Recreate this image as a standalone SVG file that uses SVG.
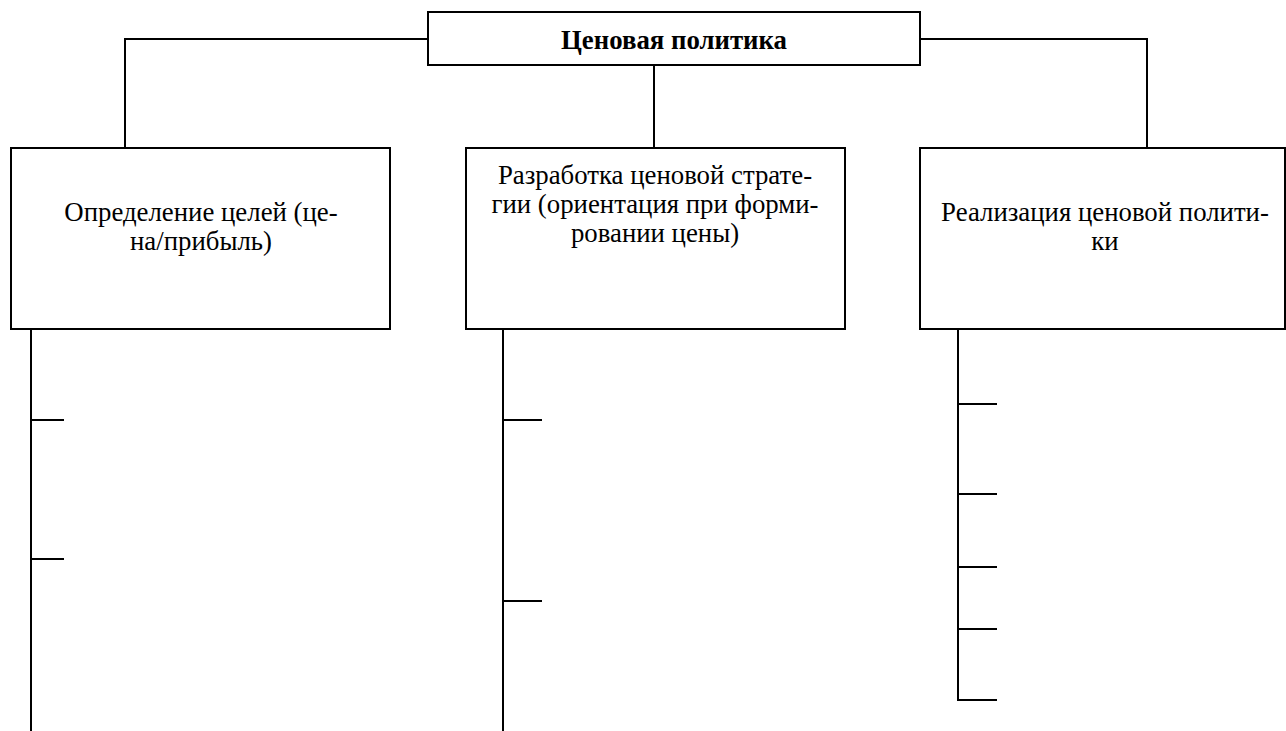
<svg xmlns="http://www.w3.org/2000/svg" width="1286" height="731" viewBox="0 0 1286 731">
<style>
.box{fill:#fff;stroke:#000;stroke-width:2}
.ln{fill:none;stroke:#000;stroke-width:2}
.t{font-family:"Liberation Serif","Times New Roman",serif;font-size:26.8px;fill:#000;text-anchor:middle}
.b{font-weight:bold}
</style>
<rect width="1286" height="731" fill="#fff"/>
<g id="connectors">
<polyline class="ln" points="428,39 125,39 125,148"/>
<polyline class="ln" points="920,39 1147,39 1147,148"/>
<line class="ln" x1="654" y1="65" x2="654" y2="148"/>
<line class="ln" x1="31" y1="329" x2="31" y2="731"/>
<line class="ln" x1="31" y1="420" x2="64" y2="420"/>
<line class="ln" x1="31" y1="559" x2="64" y2="559"/>
<line class="ln" x1="503" y1="329" x2="503" y2="731"/>
<line class="ln" x1="503" y1="420" x2="542" y2="420"/>
<line class="ln" x1="503" y1="601" x2="542" y2="601"/>
<polyline class="ln" points="958,329 958,700 997,700"/>
<line class="ln" x1="958" y1="404" x2="997" y2="404"/>
<line class="ln" x1="958" y1="494" x2="997" y2="494"/>
<line class="ln" x1="958" y1="567" x2="997" y2="567"/>
<line class="ln" x1="958" y1="629" x2="997" y2="629"/>
</g>
<g id="root">
<rect class="box" x="428" y="12" width="492" height="53"/>
<text class="t b" x="674" y="49">Ценовая политика</text>
</g>
<g id="goals">
<rect class="box" x="11" y="148" width="379" height="181"/>
<text class="t" x="201" y="221">Определение целей (це-</text>
<text class="t" x="201" y="250">на/прибыль)</text>
</g>
<g id="strategy">
<rect class="box" x="466" y="148" width="379" height="181"/>
<text class="t" x="655" y="184">Разработка ценовой страте-</text>
<text class="t" x="655" y="213">гии (ориентация при форми-</text>
<text class="t" x="655" y="242">ровании цены)</text>
</g>
<g id="implementation">
<rect class="box" x="920" y="148" width="365" height="181"/>
<text class="t" x="1105" y="221">Реализация ценовой полити-</text>
<text class="t" x="1105" y="250">ки</text>
</g>
</svg>
